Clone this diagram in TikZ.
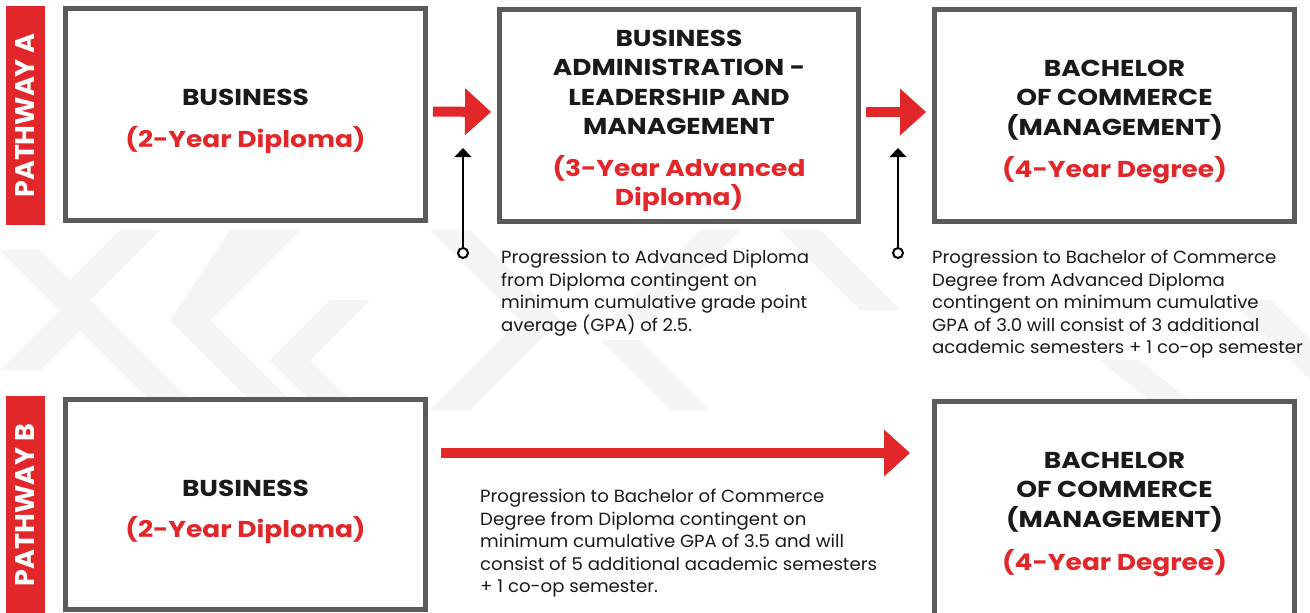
\documentclass[tikz,border=0pt]{standalone}
\usepackage{fontspec}
\setmainfont{Poppins}
\newfontfamily\titlefont{Poppins}[FakeStretch=1.15]
\newfontfamily\notefont{Poppins}[FakeStretch=1.03]
\usetikzlibrary{arrows.meta}
\definecolor{cred}{HTML}{E2272A}
\definecolor{cgray}{HTML}{5B5B5B}
\definecolor{cbg}{HTML}{F5F5F5}
\definecolor{ctext}{HTML}{1A1A1A}
\begin{document}
\begin{tikzpicture}[x=1pt,y=-1pt,
  box/.style={draw=cgray, line width=5pt, fill=white, minimum width=360pt,
    minimum height=212pt, inner sep=0pt},
  title/.style={align=center, inner sep=0pt, text=ctext,
    font=\titlefont\fontsize{23}{29.5}\selectfont\bfseries},
  pathlabel/.style={fill=cred, text=white, rotate=90, minimum width=219pt,
    minimum height=39pt, inner sep=0pt, font=\fontsize{27}{27}\selectfont\bfseries},
  redarrow/.style={draw=cred, line width=10pt,
    -{Triangle[length=26pt,width=47pt,line width=0pt]}},
  blackarrow/.style={draw=black, line width=2.5pt,
    -{Triangle[length=9pt,width=17pt,line width=0pt]}},
  dot/.style={circle, draw=black, line width=2pt, fill=white, minimum size=10pt, inner sep=0pt},
  note/.style={anchor=north west, inner sep=0pt, align=left, text=ctext,
    font=\notefont\fontsize{17.6}{22.5}\selectfont},
  band/.style={fill=cbg, draw=none}
]
\useasboundingbox (0,0) rectangle (1310,613);
\fill[white] (0,0) rectangle (1310,613);
% faint background pattern
\fill[band] (0,250) -- (40,250) -- (100,310) -- (40,370) -- (0,370) -- (60,310) -- cycle;
\fill[band] (120,230) -- (160,230) -- (90,300) -- (200,410) -- (160,410) -- (50,300) -- cycle;
\fill[band] (230,230) -- (300,230) -- (210,320) -- (300,410) -- (260,410) -- (170,320) -- cycle;
\fill[band] (330,300) -- (370,300) -- (310,360) -- (360,410) -- (320,410) -- (270,360) -- cycle;
\fill[band] (430,230) -- (470,230) -- (560,320) -- (470,410) -- (430,410) -- (520,320) -- cycle;
\fill[band] (600,340) -- (640,340) -- (710,410) -- (670,410) -- cycle;
\fill[band] (780,230) -- (820,230) -- (900,310) -- (860,310) -- cycle;
\fill[band] (700,230) -- (740,230) -- (650,320) -- (610,320) -- cycle;
\fill[band] (1100,360) -- (1140,360) -- (1200,410) -- (1160,410) -- cycle;
\fill[band] (1230,300) -- (1270,300) -- (1310,340) -- (1310,380) -- cycle;

% pathway labels
\node[pathlabel] (pa) at (25.5,115.5) {PATHWAY A};
\node[pathlabel] (pb) at (25.5,505) {PATHWAY B};

% pathway A boxes
\node[box] (a1) at (245.5,114.5) {};
\node[box, minimum width=359pt] (a2) at (679,115) {};
\node[box] (a3) at (1114.5,115) {};
% pathway B boxes
\node[box, minimum height=210pt] (b1) at (245.5,504.5) {};
\node[box, minimum height=220pt] (b3) at (1114.5,511) {};

% titles
\node[title] (a1t) at ([yshift=-7pt]a1.center) {BUSINESS\\[12pt]\textcolor{cred}{(2-Year Diploma)}};
\node[title] (a2t) at ([yshift=-6pt]a2.center) {BUSINESS\\ADMINISTRATION -\\LEADERSHIP AND\\MANAGEMENT\\[12pt]\textcolor{cred}{(3-Year Advanced}\\\textcolor{cred}{Diploma)}};
\node[title] (a3t) at ([yshift=-7pt]a3.center) {BACHELOR\\OF COMMERCE\\(MANAGEMENT)\\[13pt]\textcolor{cred}{(4-Year Degree)}};
\node[title] (b1t) at ([yshift=-7.5pt]b1.center) {BUSINESS\\[12pt]\textcolor{cred}{(2-Year Diploma)}};
\node[title] (b3t) at (1114.5,514) {BACHELOR\\OF COMMERCE\\(MANAGEMENT)\\[13.5pt]\textcolor{cred}{(4-Year Degree)}};

% red arrows
\draw[redarrow, shorten <=5pt, shorten >=6pt] ([yshift=3pt]a1.east) -- ([yshift=3pt]a2.west);
\draw[redarrow, shorten <=5pt, shorten >=6pt] ([yshift=3pt]a2.east) -- ([yshift=3pt]a3.west);
\coordinate (bl) at (0,453);
\draw[redarrow, shorten <=13pt, shorten >=22pt] (b1.east |- bl) -- (b3.west |- bl);

% black progression arrows
\coordinate (t1) at (463,148);
\coordinate (t2) at (898,148);
\node[dot] (d1) at (463,253) {};
\node[dot] (d2) at (898,253) {};
\draw[blackarrow] (d1) -- (t1);
\draw[blackarrow] (d2) -- (t2);

% notes
\node[note] (n1) at (501,250) {Progression to Advanced Diploma\\from Diploma contingent on\\minimum cumulative grade point\\average (GPA) of 2.5.};
\node[note] (n2) at (932,250) {Progression to Bachelor of Commerce\\Degree from Advanced Diploma\\contingent on minimum cumulative\\GPA of 3.0 will consist of 3 additional\\academic semesters + 1 co-op semester};
\node[note] (n3) at (480,489) {Progression to Bachelor of Commerce\\Degree from Diploma contingent on\\minimum cumulative GPA of 3.5 and will\\consist of 5 additional academic semesters\\+ 1 co-op semester.};
\end{tikzpicture}
\end{document}
